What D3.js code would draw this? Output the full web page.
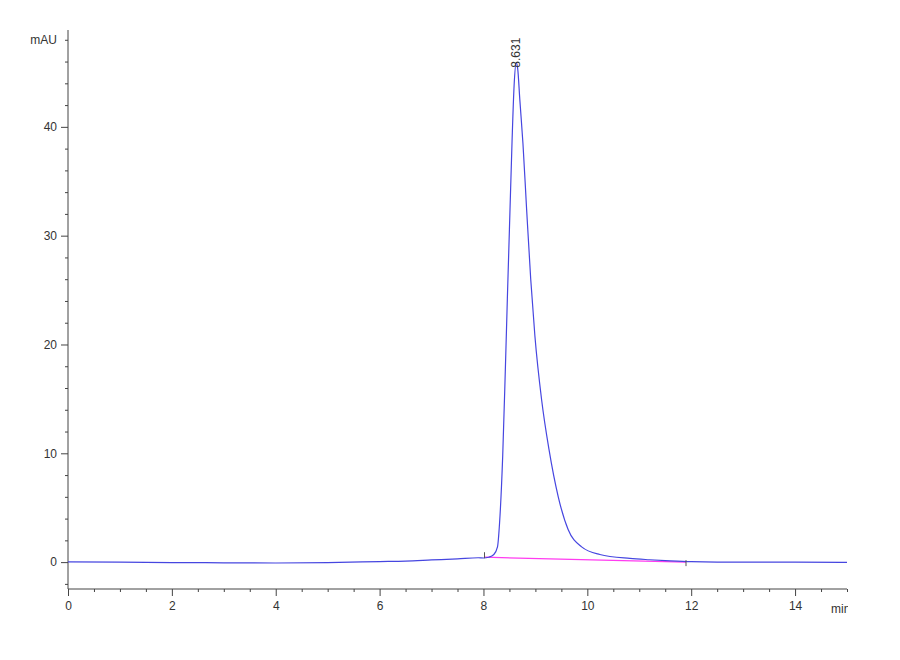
<!DOCTYPE html>
<html>
<head>
<meta charset="utf-8">
<script src="https://cdn.jsdelivr.net/npm/d3@7"></script>
<style>
  html, body { margin: 0; padding: 0; background: #fff; }
  svg text { font-family: "Liberation Sans", Arial, sans-serif; fill: #333; }
  .axis path, .axis line { stroke: #444; }
</style>
</head>
<body>
<svg id="chart" width="900" height="660"></svg>
<script>
// 色谱数据：时间 (min) 与吸光度 (mAU)
const TIME = [0, 1, 2, 3, 4, 5, 6, 6.5, 7, 7.5, 7.9, 8.0, 8.1, 8.2, 8.27, 8.31, 8.37, 8.42, 8.46,
  8.50, 8.55, 8.59, 8.631, 8.66, 8.70, 8.76, 8.83, 8.91, 8.99, 9.12, 9.26, 9.44, 9.63,
  9.89, 10.24, 10.82, 11.2, 11.6, 12, 13, 14, 15];
const MAU = [0.02, 0.0, -0.04, -0.06, -0.08, -0.05, 0.05, 0.1, 0.2, 0.3, 0.4, 0.38, 0.45, 0.7, 1.4,
  3.6, 9.7, 17.5, 24.2, 30.6, 38.6, 43.8, 45.9, 45.3, 42.5, 38.5, 32.5, 26.0, 20.8, 14.9, 10.4,
  6.0, 3.0, 1.4, 0.7, 0.34, 0.22, 0.12, 0.05, 0.0, 0.0, -0.02];

// 积分基线（起点、终点）
const BASE_T = [8.02, 11.9];
const BASE_V = [0.45, 0.0];

const PEAK_T = 8.631, PEAK_V = 45.9, PEAK_LABEL = "8.631";

const X_TICKS = [0, 2, 4, 6, 8, 10, 12, 14];
const Y_TICKS = [0, 10, 20, 30, 40];

const svg = d3.select("#chart");
const x = d3.scaleLinear().domain([0, 15]).range([68, 847]);
const y = d3.scaleLinear().domain([-2.47, 48.9]).range([589, 30]);

// 坐标轴
const xMinor = d3.range(0, 15.01, 0.5).filter((d) => !X_TICKS.includes(d));
svg.append("g").attr("class", "axis").attr("transform", "translate(0,589)")
  .call(d3.axisBottom(x).tickValues(xMinor).tickSize(3).tickFormat(""))
  .call((g) => g.select(".domain").remove());
svg.append("g").attr("class", "axis").attr("transform", "translate(0,589)")
  .call(d3.axisBottom(x).tickValues(X_TICKS).tickSize(7).tickSizeOuter(0).tickPadding(5).tickFormat(d3.format("d")))
  .call((g) => g.selectAll("text").attr("font-size", 12))
  .call((g) => g.select(".domain").attr("d", `M68,0H847`));

const yMinor = d3.range(-2, 48.1, 2).filter((d) => !Y_TICKS.includes(d));
svg.append("g").attr("class", "axis").attr("transform", "translate(68,0)")
  .call(d3.axisLeft(y).tickValues(yMinor).tickSize(3).tickFormat(""))
  .call((g) => g.select(".domain").remove());
svg.append("g").attr("class", "axis").attr("transform", "translate(68,0)")
  .call(d3.axisLeft(y).tickValues(Y_TICKS).tickSize(7).tickSizeOuter(0).tickPadding(4).tickFormat(d3.format("d")))
  .call((g) => g.selectAll("text").attr("font-size", 12))
  .call((g) => g.select(".domain").attr("d", `M0,30V589`));

// 单位
svg.append("text").attr("x", 57).attr("y", y(48)).attr("dy", "0.35em")
  .attr("text-anchor", "end").attr("font-size", 12).text("mAU");
svg.append("defs").append("clipPath").attr("id", "minclip")
  .append("rect").attr("x", 800).attr("y", 590).attr("width", 48).attr("height", 40);
svg.append("text").attr("x", 831).attr("y", 613).attr("font-size", 12)
  .attr("clip-path", "url(#minclip)").text("min");

// 积分基线
svg.append("line")
  .attr("x1", x(BASE_T[0])).attr("y1", y(BASE_V[0]))
  .attr("x2", x(BASE_T[1])).attr("y2", y(BASE_V[1]))
  .attr("stroke", "#ff3cf0").attr("stroke-width", 1.3);

// 色谱曲线
const pts = TIME.map((t, i) => [t, MAU[i]]);
svg.append("path").datum(pts)
  .attr("fill", "none").attr("stroke", "#4646e0").attr("stroke-width", 1.2)
  .attr("d", d3.line().x((d) => x(d[0])).y((d) => y(d[1])).curve(d3.curveMonotoneX));

// 积分起止标记
BASE_T.forEach((t, i) => {
  const py = y(BASE_V[i]);
  svg.append("line").attr("x1", x(t)).attr("x2", x(t))
    .attr("y1", i === 0 ? py - 5 : py - 2).attr("y2", i === 0 ? py + 1 : py + 4)
    .attr("stroke", "#555").attr("stroke-width", 1);
});

// 峰标签
svg.append("text")
  .attr("transform", `translate(${x(PEAK_T) + 4},${y(PEAK_V) + 5}) rotate(-90)`)
  .attr("font-size", 12).text(PEAK_LABEL);
</script>
</body>
</html>
